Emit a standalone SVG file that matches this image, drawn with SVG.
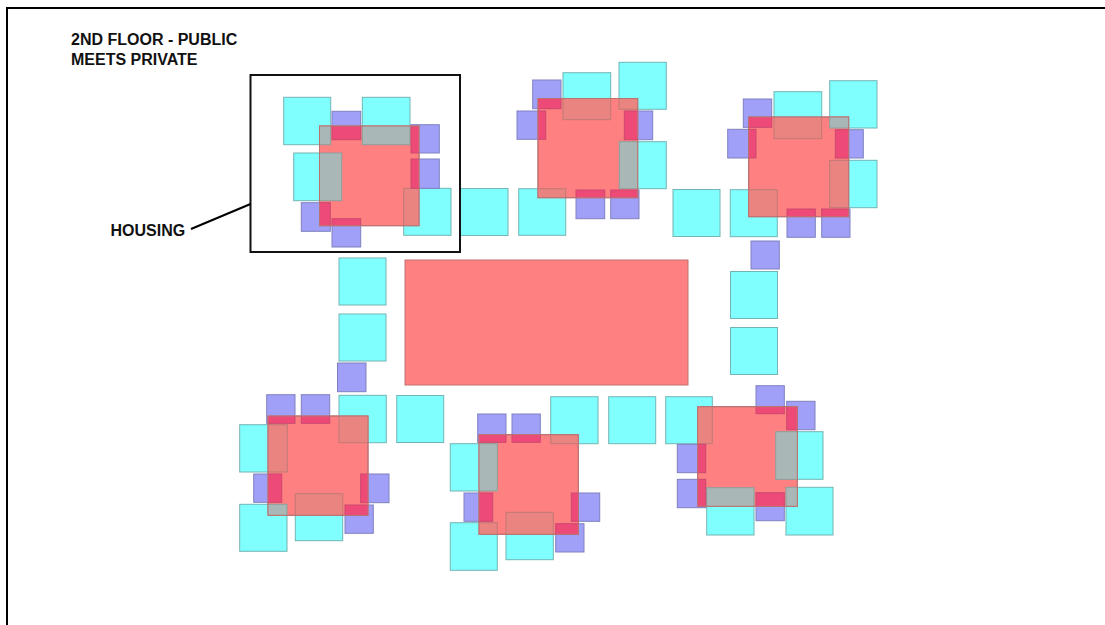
<svg xmlns="http://www.w3.org/2000/svg" width="1105" height="625" viewBox="0 0 1105 625">
<style>
rect{stroke-width:1}
.c{fill:#80ffff;stroke:#74b4b4}
.b{fill:#a0a0f8;stroke:#8080c0}
.r{fill:#ff8080;stroke:#c07070}
.o{fill:none;stroke:#b87272}
.g{fill:#a9b8b6;stroke:#8aa09e}
.s{fill:#e98480;stroke:#c07a76}
.m{fill:#ee4a78;stroke:#cc4870}
.t{font-family:"Liberation Sans",Arial,sans-serif;font-weight:700;font-size:16px;fill:#111}
.l{fill:none;stroke:#000;stroke-width:2}
rect.f{fill:none;stroke:#111;stroke-width:2}
</style>
<defs>
<clipPath id="c1"><rect x="319.5" y="126" width="99.5" height="99.7"/></clipPath>
<clipPath id="c2"><rect x="538" y="98.5" width="99.7" height="99.2"/></clipPath>
<clipPath id="c3"><rect x="748.7" y="117" width="100" height="99.7"/></clipPath>
<clipPath id="c4"><rect x="268" y="416" width="100" height="99.3"/></clipPath>
<clipPath id="c5"><rect x="479" y="434.7" width="99.3" height="99.6"/></clipPath>
<clipPath id="c6"><rect x="697.7" y="406.7" width="99.6" height="99.6"/></clipPath>
</defs>
<rect width="1105" height="625" fill="#fff" stroke="none"/>
<path class="l" d="M7 625V8H1105"/>
<g id="title"><text class="t" x="71" y="45">2ND FLOOR - PUBLIC</text><text class="t" x="71" y="64.5">MEETS PRIVATE</text></g>
<g id="public-spaces">
<rect class="c" x="460.5" y="188.5" width="47.5" height="47"/>
<rect class="c" x="673" y="189.5" width="47" height="47"/>
<rect class="c" x="339" y="258" width="47" height="47"/>
<rect class="c" x="339" y="314" width="47" height="47"/>
<rect class="c" x="730.5" y="271.5" width="47" height="47"/>
<rect class="c" x="730.5" y="327.5" width="47" height="47"/>
<rect class="c" x="396.7" y="395.5" width="47" height="47"/>
<rect class="c" x="608.7" y="396.7" width="47" height="47"/>
<rect class="b" x="751" y="241" width="28.3" height="28"/>
<rect class="b" x="337.5" y="363" width="28.5" height="28.7"/>
</g>
<g id="center"><rect class="r" x="405" y="260" width="283" height="125"/></g>
<g id="housing-1">
<rect class="c" x="283.7" y="97.3" width="47" height="47.4"/><rect class="c" x="362.3" y="97.3" width="47.7" height="47.4"/><rect class="c" x="293.7" y="153" width="48" height="47.7"/><rect class="c" x="403.7" y="188.3" width="47.3" height="47"/>
<rect class="b" x="332" y="111.3" width="28.7" height="28.4"/><rect class="b" x="411" y="124.7" width="28.3" height="28.3"/><rect class="b" x="411" y="159" width="28.3" height="29.3"/><rect class="b" x="301.3" y="202.7" width="29" height="28.6"/><rect class="b" x="332" y="218.7" width="28.7" height="28.3"/>
<rect class="r" x="319.5" y="126" width="99.5" height="99.7"/>
<g clip-path="url(#c1)">
<rect class="g" x="283.7" y="97.3" width="47" height="47.4"/><rect class="g" x="362.3" y="97.3" width="47.7" height="47.4"/><rect class="g" x="293.7" y="153" width="48" height="47.7"/><rect class="s" x="403.7" y="188.3" width="47.3" height="47"/>
<rect class="m" x="332" y="111.3" width="28.7" height="28.4"/><rect class="m" x="411" y="124.7" width="28.3" height="28.3"/><rect class="m" x="411" y="159" width="28.3" height="29.3"/><rect class="m" x="301.3" y="202.7" width="29" height="28.6"/><rect class="m" x="332" y="218.7" width="28.7" height="28.3"/>
</g>
<rect class="o" x="319.5" y="126" width="99.5" height="99.7"/>
</g>
<g id="housing-2">
<rect class="c" x="563" y="72.7" width="47.7" height="47"/><rect class="c" x="619" y="62.3" width="47.3" height="47"/><rect class="c" x="619.3" y="141.7" width="47" height="47"/><rect class="c" x="518.7" y="188.7" width="47" height="46.6"/>
<rect class="b" x="532.7" y="80" width="28.3" height="28.7"/><rect class="b" x="517" y="111" width="28.7" height="28.3"/><rect class="b" x="624.3" y="111" width="28.4" height="28.7"/><rect class="b" x="576" y="190" width="28.7" height="28.7"/><rect class="b" x="610.7" y="190" width="28.3" height="28.7"/>
<rect class="r" x="538" y="98.5" width="99.7" height="99.2"/>
<g clip-path="url(#c2)">
<rect class="s" x="563" y="72.7" width="47.7" height="47"/><rect class="s" x="619" y="62.3" width="47.3" height="47"/><rect class="g" x="619.3" y="141.7" width="47" height="47"/><rect class="s" x="518.7" y="188.7" width="47" height="46.6"/>
<rect class="m" x="532.7" y="80" width="28.3" height="28.7"/><rect class="m" x="517" y="111" width="28.7" height="28.3"/><rect class="m" x="624.3" y="111" width="28.4" height="28.7"/><rect class="m" x="576" y="190" width="28.7" height="28.7"/><rect class="m" x="610.7" y="190" width="28.3" height="28.7"/>
</g>
<rect class="o" x="538" y="98.5" width="99.7" height="99.2"/>
</g>
<g id="housing-3">
<rect class="c" x="774" y="91.7" width="47.7" height="47"/><rect class="c" x="829.7" y="80.7" width="47.3" height="47.3"/><rect class="c" x="829.7" y="160.3" width="47.3" height="47.4"/><rect class="c" x="730.3" y="189.7" width="47" height="47"/>
<rect class="b" x="743.3" y="99" width="28.4" height="28.3"/><rect class="b" x="727.7" y="129.3" width="28.3" height="28.7"/><rect class="b" x="835.3" y="129.7" width="28" height="28.3"/><rect class="b" x="787" y="209" width="28.3" height="28.3"/><rect class="b" x="821.7" y="209" width="28.3" height="28.3"/>
<rect class="r" x="748.7" y="117" width="100" height="99.7"/>
<g clip-path="url(#c3)">
<rect class="s" x="774" y="91.7" width="47.7" height="47"/><rect class="g" x="829.7" y="80.7" width="47.3" height="47.3"/><rect class="s" x="829.7" y="160.3" width="47.3" height="47.4"/><rect class="s" x="730.3" y="189.7" width="47" height="47"/>
<rect class="m" x="743.3" y="99" width="28.4" height="28.3"/><rect class="m" x="727.7" y="129.3" width="28.3" height="28.7"/><rect class="m" x="835.3" y="129.7" width="28" height="28.3"/><rect class="m" x="787" y="209" width="28.3" height="28.3"/><rect class="m" x="821.7" y="209" width="28.3" height="28.3"/>
</g>
<rect class="o" x="748.7" y="117" width="100" height="99.7"/>
</g>
<g id="housing-4">
<rect class="c" x="239.7" y="424.7" width="47.6" height="47.3"/><rect class="c" x="239.7" y="504.3" width="47.3" height="47"/><rect class="c" x="295.3" y="493.7" width="47.4" height="47"/><rect class="c" x="339" y="395.3" width="47.3" height="47.4"/>
<rect class="b" x="266.7" y="394.7" width="28.3" height="28.6"/><rect class="b" x="301.3" y="394.7" width="28.4" height="28.6"/><rect class="b" x="253.7" y="474" width="28" height="28.3"/><rect class="b" x="360.7" y="474" width="28.3" height="28.7"/><rect class="b" x="345" y="505" width="28.3" height="28.3"/>
<rect class="r" x="268" y="416" width="100" height="99.3"/>
<g clip-path="url(#c4)">
<rect class="s" x="239.7" y="424.7" width="47.6" height="47.3"/><rect class="g" x="239.7" y="504.3" width="47.3" height="47"/><rect class="s" x="295.3" y="493.7" width="47.4" height="47"/><rect class="s" x="339" y="395.3" width="47.3" height="47.4"/>
<rect class="m" x="266.7" y="394.7" width="28.3" height="28.6"/><rect class="m" x="301.3" y="394.7" width="28.4" height="28.6"/><rect class="m" x="253.7" y="474" width="28" height="28.3"/><rect class="m" x="360.7" y="474" width="28.3" height="28.7"/><rect class="m" x="345" y="505" width="28.3" height="28.3"/>
</g>
<rect class="o" x="268" y="416" width="100" height="99.3"/>
</g>
<g id="housing-5">
<rect class="c" x="450.3" y="443.7" width="47" height="47.3"/><rect class="c" x="450.3" y="522.7" width="47" height="47.6"/><rect class="c" x="506" y="512.3" width="47.3" height="47.4"/><rect class="c" x="550.7" y="396.7" width="47.3" height="47"/>
<rect class="b" x="477.7" y="414" width="28.3" height="28.3"/><rect class="b" x="512" y="414" width="28.3" height="28.3"/><rect class="b" x="464" y="493" width="28.7" height="28.3"/><rect class="b" x="571.3" y="493" width="28.4" height="28.3"/><rect class="b" x="555.7" y="523.7" width="28.3" height="28.3"/>
<rect class="r" x="479" y="434.7" width="99.3" height="99.6"/>
<g clip-path="url(#c5)">
<rect class="g" x="450.3" y="443.7" width="47" height="47.3"/><rect class="s" x="450.3" y="522.7" width="47" height="47.6"/><rect class="s" x="506" y="512.3" width="47.3" height="47.4"/><rect class="s" x="550.7" y="396.7" width="47.3" height="47"/>
<rect class="m" x="477.7" y="414" width="28.3" height="28.3"/><rect class="m" x="512" y="414" width="28.3" height="28.3"/><rect class="m" x="464" y="493" width="28.7" height="28.3"/><rect class="m" x="571.3" y="493" width="28.4" height="28.3"/><rect class="m" x="555.7" y="523.7" width="28.3" height="28.3"/>
</g>
<rect class="o" x="479" y="434.7" width="99.3" height="99.6"/>
</g>
<g id="housing-6">
<rect class="c" x="665.7" y="396.7" width="46.6" height="47"/><rect class="c" x="775.7" y="431.7" width="47.3" height="47.6"/><rect class="c" x="706.7" y="487.7" width="47.3" height="47.3"/><rect class="c" x="786" y="487.3" width="47" height="47.7"/>
<rect class="b" x="756" y="385.7" width="28.3" height="28"/><rect class="b" x="786.7" y="401.3" width="28.3" height="28.4"/><rect class="b" x="677.3" y="444.3" width="28.4" height="28.4"/><rect class="b" x="677.3" y="479.3" width="28.4" height="28.4"/><rect class="b" x="756" y="492.7" width="28.3" height="28"/>
<rect class="r" x="697.7" y="406.7" width="99.6" height="99.6"/>
<g clip-path="url(#c6)">
<rect class="s" x="665.7" y="396.7" width="46.6" height="47"/><rect class="g" x="775.7" y="431.7" width="47.3" height="47.6"/><rect class="g" x="706.7" y="487.7" width="47.3" height="47.3"/><rect class="g" x="786" y="487.3" width="47" height="47.7"/>
<rect class="m" x="756" y="385.7" width="28.3" height="28"/><rect class="m" x="786.7" y="401.3" width="28.3" height="28.4"/><rect class="m" x="677.3" y="444.3" width="28.4" height="28.4"/><rect class="m" x="677.3" y="479.3" width="28.4" height="28.4"/><rect class="m" x="756" y="492.7" width="28.3" height="28"/>
</g>
<rect class="o" x="697.7" y="406.7" width="99.6" height="99.6"/>
</g>
<g id="housing-frame"><rect class="f" x="250.5" y="75" width="209.5" height="177"/><text class="t" x="110.5" y="235.5">HOUSING</text></g>
<g id="connectors"><path class="l" d="M191 229L250.5 204"/></g>
</svg>
